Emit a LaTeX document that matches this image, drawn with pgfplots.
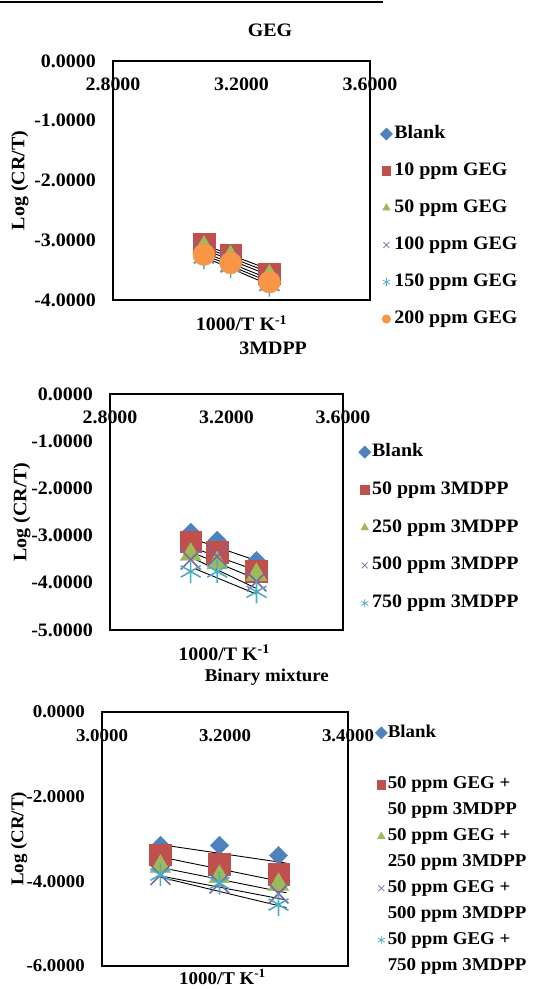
\documentclass[border=0pt]{standalone}
\usepackage{pgfplots}
\pgfplotsset{compat=1.18}
\usepackage{fontspec}
\setmainfont{Liberation Serif}[FakeStretch=1.05]
\definecolor{cB}{HTML}{4F81BD}
\definecolor{cR}{HTML}{C0504D}
\definecolor{cG}{HTML}{9BBB59}
\definecolor{cP}{HTML}{8064A2}
\definecolor{cC}{HTML}{4BACC6}
\definecolor{cO}{HTML}{F79646}
\newcommand{\fA}{\fontsize{19}{23}\selectfont\bfseries}
\newcommand{\fB}{\fontsize{18}{22}\selectfont\bfseries}
\pgfplotsset{
  xl/.style={
    scale only axis, anchor=north west,
    axis line style={line width=2.4pt},
    major tick length=0pt,
    every axis title shift=0pt,
    xticklabel pos=upper,
    tick label style={/pgf/number format/fixed, /pgf/number format/fixed zerofill,
      /pgf/number format/precision=4, /pgf/number format/assume math mode=true},
    xticklabel style={anchor=center, yshift=-23pt},
    yticklabel style={anchor=east, inner sep=0pt, xshift=-17pt},
    legend cell align=left,
    legend image post style={mark size=4.2pt, line width=0.7pt},
    clip=false,
  },
  sBl/.style={only marks, mark=square*, mark size=6.5pt, color=cB, mark options={rotate=45}},
  sSq/.style={only marks, mark=square*, mark size=10.8pt, color=cR},
  sTr/.style={only marks, mark=triangle*, mark size=12pt, color=cG},
  sX/.style={only marks, mark=x, mark size=14pt, color=cP, line width=1.6pt},
  sAs/.style={only marks, mark=asterisk, mark size=11.5pt, color=cC, line width=1.6pt},
  sCi/.style={only marks, mark=*, mark size=11pt, color=cO},
  tl/.style={black, line width=0.9pt, forget plot, mark=none},
}
\begin{document}
\begin{tikzpicture}
\useasboundingbox (0pt,0pt) rectangle (550pt,-989pt);
\draw[line width=1.2pt] (0pt,-2pt) -- (383pt,-2pt);
% ---------------- Panel 1: GEG
\begin{axis}[xl, at={(113pt,-61pt)}, width=257pt, height=239pt,
  xmin=2.8, xmax=3.6, ymin=-4, ymax=0,
  xtick={2.8,3.2,3.6}, ytick={0,-1,-2,-3,-4},
  tick label style={font=\fA},
  title={GEG}, title style={at={(axis description cs:0.611,1.130)}, anchor=center, font=\fA},
  xlabel={1000/T K\textsuperscript{-1}},
  xlabel style={at={(axis description cs:0.5,-0.096)}, anchor=center, font=\fA},
  ylabel={Log (CR/T)},
  ylabel style={at={(axis description cs:-0.362,0.5)}, anchor=center, font=\fA},
  legend style={at={(axis description cs:1.040,0.735)}, anchor=north west, draw=none, fill=none,
    inner sep=0pt, row sep=18pt, column sep=2pt, font=\fA,
    nodes={inner sep=0pt, text height=14pt, text depth=5pt}, cells={anchor=west}},
]
\addplot[sBl] coordinates {(3.083,-3.08) (3.166,-3.24) (3.287,-3.56)};
\addplot[sSq] coordinates {(3.083,-3.07) (3.166,-3.24) (3.287,-3.56)};
\addplot[sTr] coordinates {(3.083,-3.12) (3.166,-3.28) (3.287,-3.60)};
\addplot[sX] coordinates {(3.083,-3.22) (3.166,-3.36) (3.287,-3.68)};
\addplot[sAs] coordinates {(3.083,-3.29) (3.166,-3.44) (3.287,-3.75)};
\addplot[sCi] coordinates {(3.083,-3.24) (3.166,-3.38) (3.287,-3.70)};
\addplot[tl] coordinates {(3.096,-3.10) (3.310,-3.54)};
\addplot[tl] coordinates {(3.096,-3.14) (3.310,-3.59)};
\addplot[tl] coordinates {(3.096,-3.18) (3.310,-3.64)};
\addplot[tl] coordinates {(3.096,-3.23) (3.310,-3.70)};
\addplot[tl] coordinates {(3.096,-3.27) (3.310,-3.75)};
\addplot[tl] coordinates {(3.096,-3.31) (3.310,-3.80)};
\legend{Blank, 10 ppm GEG, 50 ppm GEG, 100 ppm GEG, 150 ppm GEG, 200 ppm GEG}
\end{axis}
% ---------------- Panel 2: 3MDPP
\begin{axis}[xl, at={(110pt,-394pt)}, width=233pt, height=236pt,
  xmin=2.8, xmax=3.6, ymin=-5, ymax=0,
  xtick={2.8,3.2,3.6}, ytick={0,-1,-2,-3,-4,-5},
  tick label style={font=\fA},
  title={3MDPP}, title style={at={(axis description cs:0.70,1.195)}, anchor=center, font=\fA},
  xlabel={1000/T K\textsuperscript{-1}},
  xlabel style={at={(axis description cs:0.49,-0.096)}, anchor=center, font=\fA},
  ylabel={Log (CR/T)},
  ylabel style={at={(axis description cs:-0.378,0.5)}, anchor=center, font=\fA},
  legend style={at={(axis description cs:1.067,0.795)}, anchor=north west, draw=none, fill=none,
    inner sep=0pt, row sep=18.8pt, column sep=1.5pt, font=\fA,
    nodes={inner sep=0pt, text height=14pt, text depth=5pt}, cells={anchor=west}},
]
\addplot[sBl] coordinates {(3.077,-2.93) (3.168,-3.10) (3.303,-3.53)};
\addplot[sSq] coordinates {(3.077,-3.13) (3.168,-3.35) (3.303,-3.76)};
\addplot[sTr] coordinates {(3.077,-3.40) (3.168,-3.58) (3.303,-3.83)};
\addplot[sX] coordinates {(3.077,-3.51) (3.168,-3.44) (3.303,-3.97)};
\addplot[sAs] coordinates {(3.077,-3.76) (3.168,-3.76) (3.303,-4.19)};
\addplot[tl] coordinates {(3.095,-3.09) (3.303,-3.53)};
\addplot[tl] coordinates {(3.095,-3.28) (3.303,-3.74)};
\addplot[tl] coordinates {(3.095,-3.39) (3.303,-3.92)};
\addplot[tl] coordinates {(3.095,-3.51) (3.303,-4.12)};
\addplot[tl] coordinates {(3.095,-3.71) (3.303,-4.24)};
\legend{Blank, 50 ppm 3MDPP, 250 ppm 3MDPP, 500 ppm 3MDPP, 750 ppm 3MDPP}
\end{axis}
% ---------------- Panel 3: Binary mixture
\begin{axis}[xl, at={(102pt,-712pt)}, width=246pt, height=254pt,
  xmin=3.0, xmax=3.4, ymin=-6, ymax=0,
  xtick={3.0,3.2,3.4}, ytick={0,-2,-4,-6},
  tick label style={font=\fB},
  xticklabel style={yshift=-1pt},
  title={Binary mixture}, title style={at={(axis description cs:0.67,1.138)}, anchor=center, font=\fB},
  xlabel={1000/T K\textsuperscript{-1}},
  xlabel style={at={(axis description cs:0.49,-0.043)}, anchor=center, font=\fB},
  ylabel={Log (CR/T)},
  ylabel style={at={(axis description cs:-0.337,0.5)}, anchor=center, font=\fB},
  legend style={at={(axis description cs:1.10,0.954)}, anchor=north west, draw=none, fill=none,
    inner sep=0pt, row sep=7.9pt, column sep=0.5pt, font=\fB,
    nodes={inner sep=0pt, text height=13.3pt, text depth=4.7pt}, cells={anchor=west}},
]
\addplot[sBl] coordinates {(3.095,-3.15) (3.191,-3.15) (3.287,-3.39)};
\addlegendimage{empty legend}
\addplot[sSq] coordinates {(3.095,-3.37) (3.191,-3.59) (3.287,-3.83)};
\addlegendimage{empty legend}
\addplot[sTr] coordinates {(3.095,-3.65) (3.191,-3.89) (3.287,-4.08)};
\addlegendimage{empty legend}
\addplot[sX] coordinates {(3.095,-3.85) (3.191,-4.05) (3.287,-4.29)};
\addlegendimage{empty legend}
\addplot[sAs] coordinates {(3.095,-3.84) (3.191,-4.04) (3.287,-4.55)};
\addlegendimage{empty legend}
\addplot[tl] coordinates {(3.094,-3.13) (3.300,-3.57)};
\addplot[tl] coordinates {(3.094,-3.42) (3.300,-4.03)};
\addplot[tl] coordinates {(3.094,-3.67) (3.300,-4.27)};
\addplot[tl] coordinates {(3.094,-3.87) (3.300,-4.44)};
\addplot[tl] coordinates {(3.094,-3.90) (3.300,-4.62)};
\legend{Blank, \strut, 50 ppm GEG +, 50 ppm 3MDPP, 50 ppm GEG +, 250 ppm 3MDPP, 50 ppm GEG +, 500 ppm 3MDPP, 50 ppm GEG +, 750 ppm 3MDPP}
\end{axis}
\end{tikzpicture}
\end{document}
